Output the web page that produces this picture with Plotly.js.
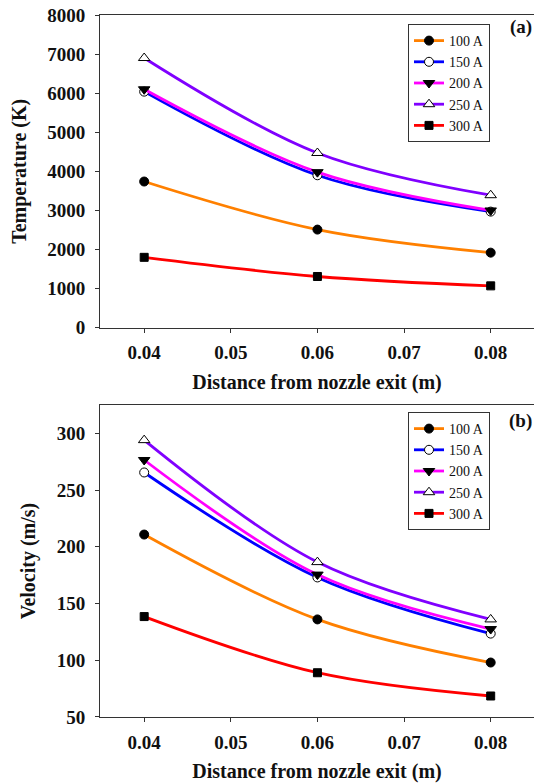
<!DOCTYPE html>
<html>
<head>
<meta charset="utf-8">
<script src="https://cdn.plot.ly/plotly-3.0.1.min.js"></script>
<style>html,body{margin:0;padding:0;background:#fff;}#chart{width:534px;height:783px;}</style>
</head>
<body>
<div id="chart"></div>
<script>
// Data
const distance = [0.04, 0.06, 0.08];
const seriesNames = ['100 A', '150 A', '200 A', '250 A', '300 A'];
const temp100 = [3740, 2510, 1920];
const temp150 = [6040, 3900, 2970];
const temp200 = [6100, 3980, 3000];
const temp250 = [6900, 4470, 3390];
const temp300 = [1800, 1310, 1070];
const vel100 = [210.8, 136, 98];
const vel150 = [265.5, 173, 123.5];
const vel200 = [276.5, 175.5, 127.5];
const vel250 = [294, 186.5, 136];
const vel300 = [138.5, 89, 68.5];
const xTicks = [0.04, 0.05, 0.06, 0.07, 0.08];
const tempTicks = [0, 1000, 2000, 3000, 4000, 5000, 6000, 7000, 8000];
const velTicks = [50, 100, 150, 200, 250, 300];

const colors = ['#ff8000', '#0000ff', '#ff00ff', '#8000ff', '#ff0000'];
const markers = [
  {symbol: 'circle', color: '#000', line: {color: '#000', width: 1}, size: 9},
  {symbol: 'circle', color: '#fff', line: {color: '#000', width: 1}, size: 9},
  {symbol: 'triangle-down', color: '#000', line: {color: '#000', width: 1}, size: 10},
  {symbol: 'triangle-up', color: '#fff', line: {color: '#000', width: 1}, size: 10},
  {symbol: 'square', color: '#000', line: {color: '#000', width: 1}, size: 8}
];
const tempData = [temp100, temp150, temp200, temp250, temp300];
const velData = [vel100, vel150, vel200, vel250, vel300];

const FONT = '"Liberation Serif", "Times New Roman", serif';
const traces = [];
tempData.forEach((ys, i) => traces.push({
  x: distance, y: ys, name: seriesNames[i], xaxis: 'x', yaxis: 'y',
  mode: 'lines+markers', line: {color: colors[i], width: 2.8, shape: 'spline'},
  marker: markers[i], legend: 'legend'
}));
velData.forEach((ys, i) => traces.push({
  x: distance, y: ys, name: seriesNames[i], xaxis: 'x2', yaxis: 'y2',
  mode: 'lines+markers', line: {color: colors[i], width: 2.8, shape: 'spline'},
  marker: markers[i], legend: 'legend2'
}));

const axisCommon = {
  showgrid: false, zeroline: false, showline: true, linecolor: '#333', linewidth: 1,
  ticks: 'outside', ticklen: 4, tickcolor: '#333',
  tickfont: {family: FONT, size: 19, color: '#111', weight: 'bold'}
};
const titleFont = {family: FONT, size: 20, color: '#111', weight: 'bold'};
const xTitle = {text: 'Distance from nozzle exit (m)', font: titleFont, standoff: 12};

const legendCommon = {x: (408 - 100) / 434, xanchor: 'left', yanchor: 'top', bgcolor: '#fff',
  bordercolor: '#333', borderwidth: 1, itemwidth: 30, font: {family: FONT, size: 14, color: '#111'}};

const layout = {
  width: 534, height: 783,
  margin: {l: 100, r: 0, t: 0, b: 0},
  paper_bgcolor: '#fff', plot_bgcolor: '#fff',
  font: {family: FONT},
  xaxis: Object.assign({}, axisCommon, {domain: [0, 1], anchor: 'y', range: [0.0349, 0.0850],
    tickvals: xTicks, ticktext: xTicks.map(v => v.toFixed(2)), mirror: true, ticklabelstandoff: 4, title: xTitle}),
  yaxis: Object.assign({}, axisCommon, {domain: [0.5815, 0.9808], anchor: 'x', range: [0, 8000],
    tickvals: tempTicks, ticktext: tempTicks.map(String), ticklabelstandoff: 6,
    title: {text: 'Temperature (K)', font: titleFont, standoff: 15}}),
  xaxis2: Object.assign({}, axisCommon, {domain: [0, 1], anchor: 'y2', range: [0.0349, 0.0850],
    tickvals: xTicks, ticktext: xTicks.map(v => v.toFixed(2)), mirror: true, ticklabelstandoff: 4, title: xTitle}),
  yaxis2: Object.assign({}, axisCommon, {domain: [0.0843, 0.4828], anchor: 'x2', range: [50, 325],
    tickvals: velTicks, ticktext: velTicks.map(String), ticklabelstandoff: 6,
    title: {text: 'Velocity (m/s)', font: titleFont, standoff: 15}}),
  legend: Object.assign({}, legendCommon, {y: 1 - 24 / 783}),
  legend2: Object.assign({}, legendCommon, {y: 1 - 412 / 783}),
  annotations: [
    {text: '(a)', xref: 'paper', yref: 'paper', x: 1, y: 1 - 27 / 783, xanchor: 'right', yanchor: 'middle',
      showarrow: false, font: {family: FONT, size: 19, color: '#111', weight: 'bold'}},
    {text: '(b)', xref: 'paper', yref: 'paper', x: 1, y: 1 - 421 / 783, xanchor: 'right', yanchor: 'middle',
      showarrow: false, font: {family: FONT, size: 19, color: '#111', weight: 'bold'}}
  ],
  showlegend: true
};

Plotly.newPlot('chart', traces, layout, {staticPlot: true, displayModeBar: false});
</script>
</body>
</html>
